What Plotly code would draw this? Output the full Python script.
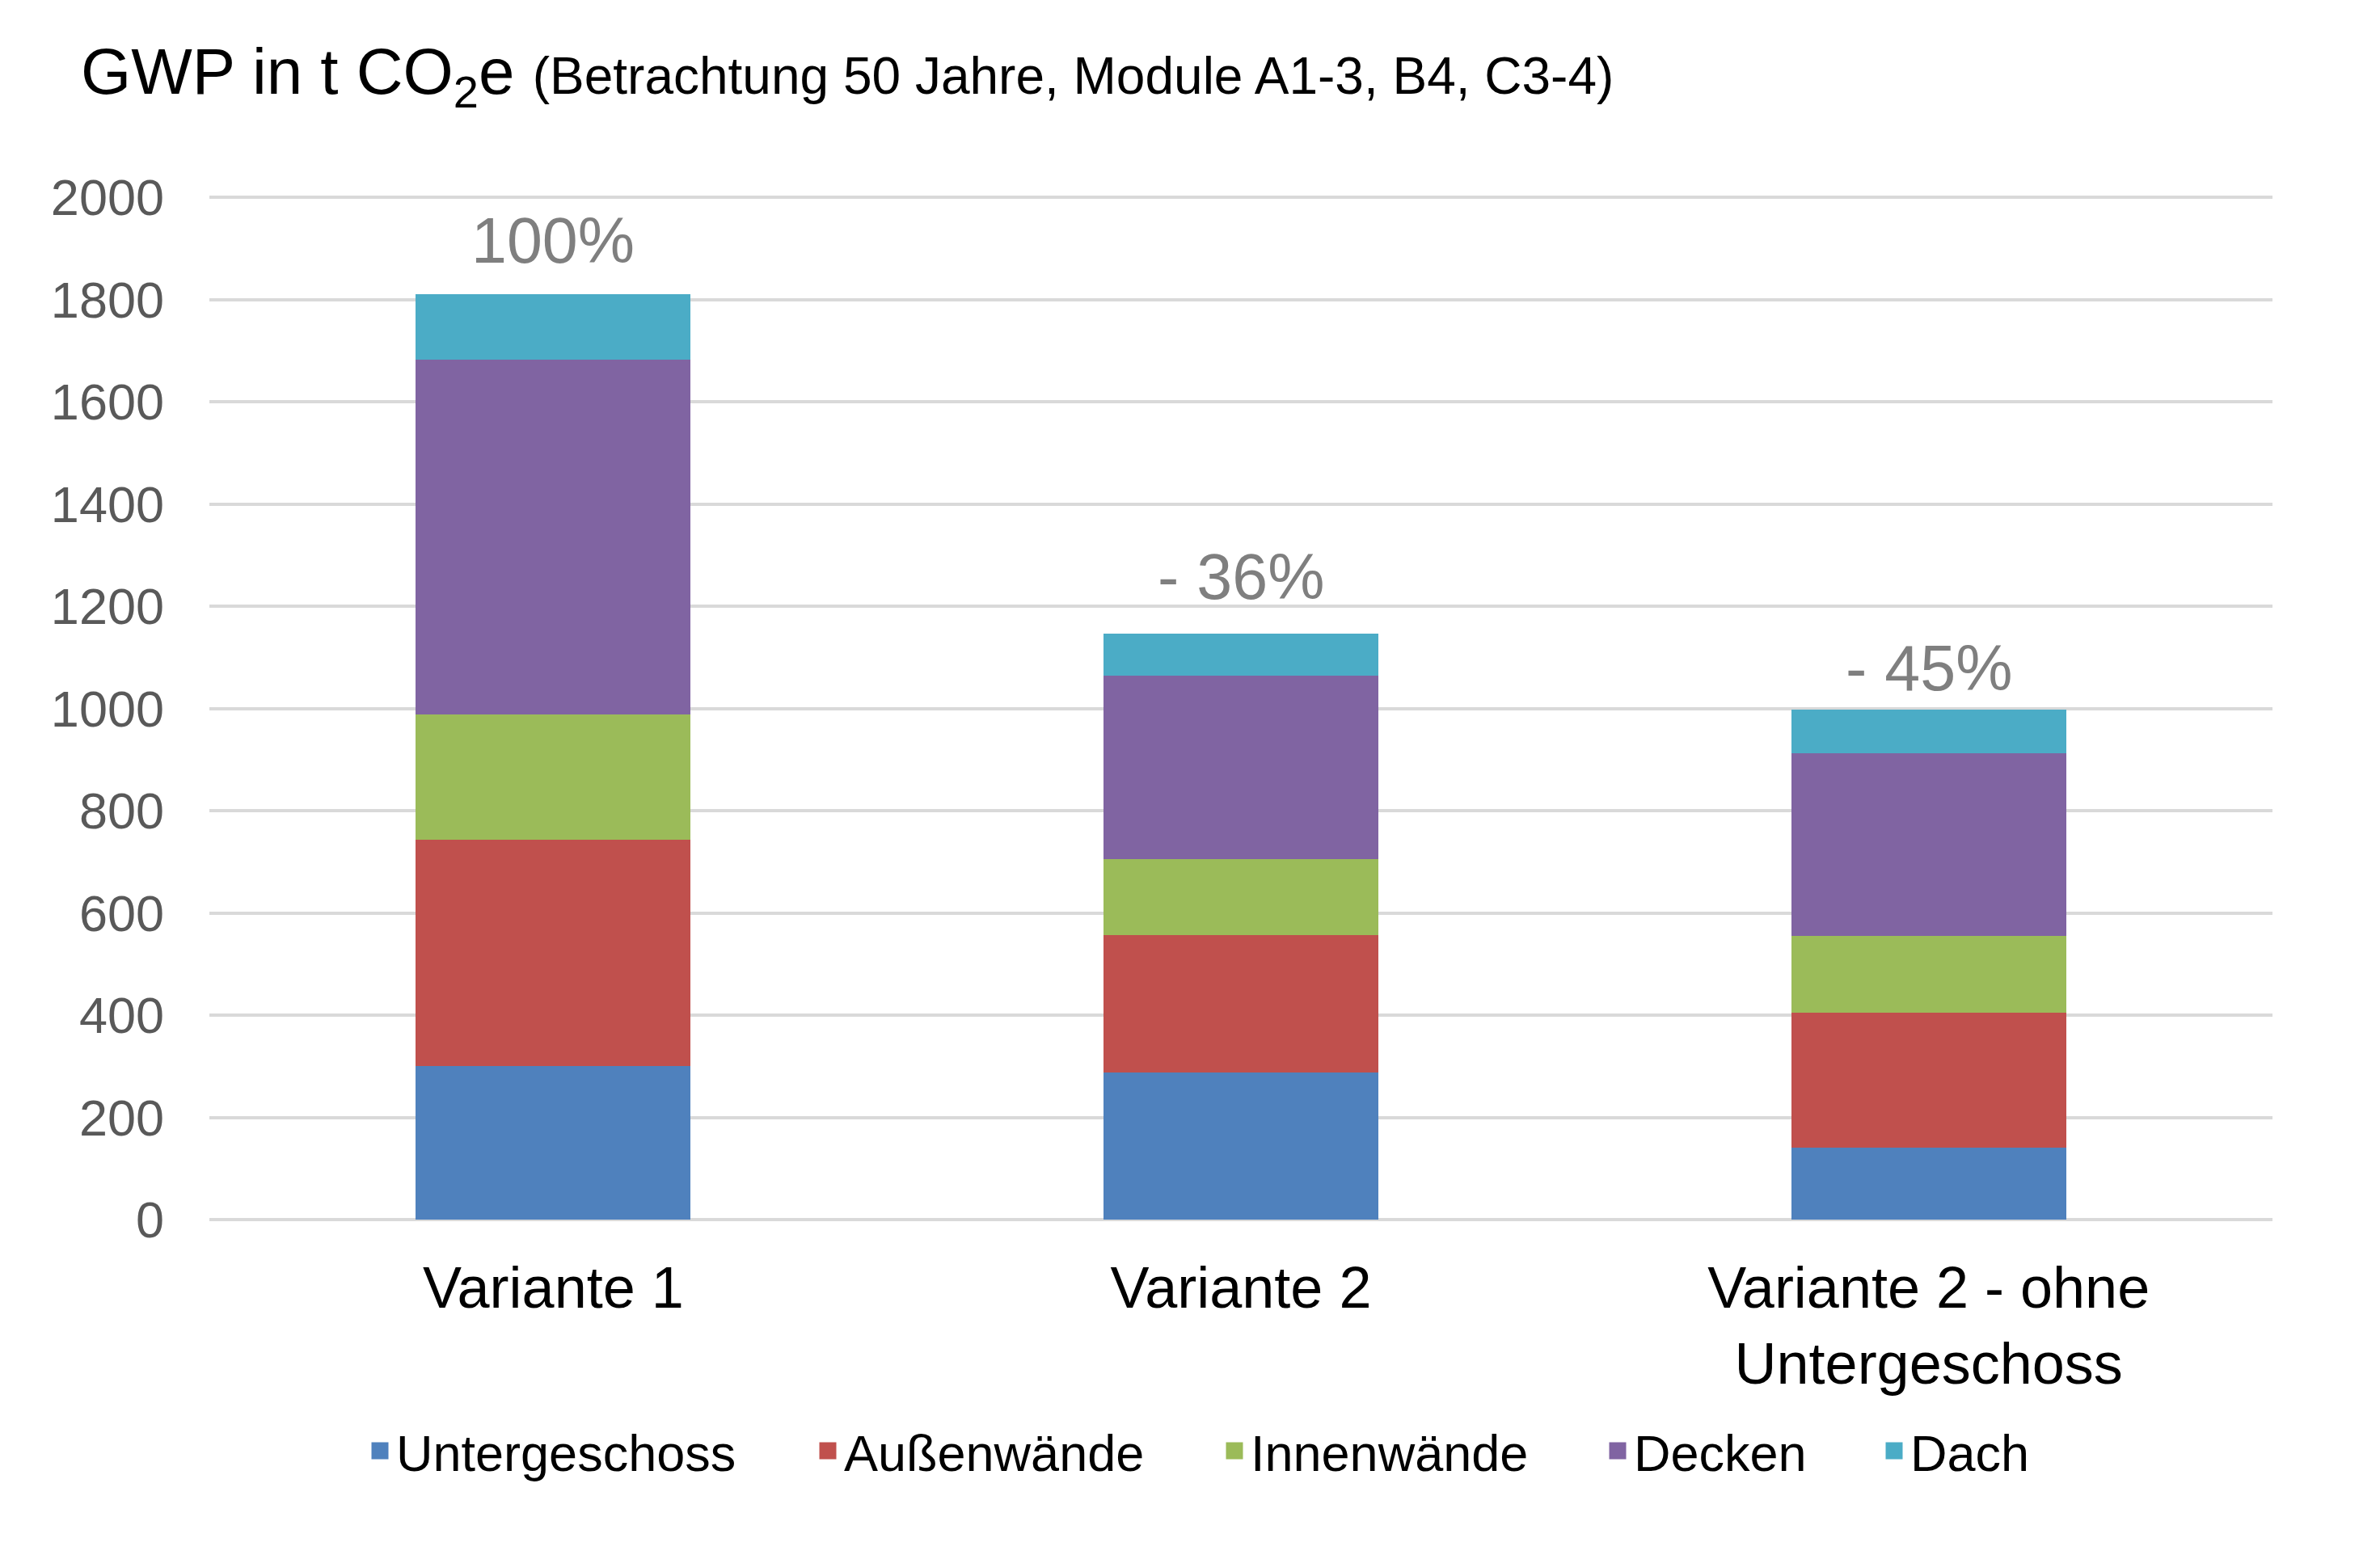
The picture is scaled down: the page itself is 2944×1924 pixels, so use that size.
import plotly.graph_objects as go

# ---- data ----
categories = ["Variante 1", "Variante 2", "Variante 2 - ohne<br>Untergeschoss"]
series_names = ["Untergeschoss", "Außenwände", "Innenwände", "Decken", "Dach"]
untergeschoss = [300, 287, 140]
aussenwaende = [443, 270, 265]
innenwaende = [245, 148, 150]
decken = [694, 359, 357]
dach = [129, 82, 85]
percent_labels = ["100%", "- 36%", "- 45%"]
y_ticks = [0, 200, 400, 600, 800, 1000, 1200, 1400, 1600, 1800, 2000]

# ---- styles ----
series_values = [untergeschoss, aussenwaende, innenwaende, decken, dach]
colors = ["#4F81BD", "#C0504D", "#9BBB59", "#8064A2", "#4BACC6"]
legend_ids = ["legend", "legend2", "legend3", "legend4", "legend5"]
legend_x_px = [442, 996, 1499, 1973, 2315]
label_yshift = [20, 24, 5]
W, H = 2944, 1924
FONT = "Liberation Sans, Arial, sans-serif"

fig = go.Figure()
for name, vals, col, lg in zip(series_names, series_values, colors, legend_ids):
    fig.add_trace(go.Bar(
        x=categories, y=vals, name=name,
        marker=dict(color=col, line=dict(width=0)),
        legend=lg, showlegend=False, legendgroup=name,
    ))
    # legend entry (larger square swatch than the bar default)
    fig.add_trace(go.Scatter(
        x=[None], y=[None], mode="markers", name=name,
        marker=dict(symbol="square", size=16, color=col, line=dict(color=col, width=5)),
        legend=lg, showlegend=True, legendgroup=name, hoverinfo="skip",
    ))

totals = [sum(v) for v in zip(*series_values)]
for cat, tot, lab, ys in zip(categories, totals, percent_labels, label_yshift):
    fig.add_annotation(
        x=cat, y=tot, text=lab, showarrow=False,
        xanchor="center", yanchor="bottom", yshift=ys,
        font=dict(family=FONT, size=79, color="#7F7F7F"),
    )

legend_common = dict(
    orientation="h", xref="container", yref="container",
    xanchor="left", yanchor="middle", y=1 - 1787 / H,
    font=dict(family=FONT, size=63, color="#000000"),
    bgcolor="rgba(0,0,0,0)", borderwidth=0, itemsizing="trace",
)
layout_legends = {}
for lg, xp in zip(legend_ids, legend_x_px):
    layout_legends[lg] = dict(legend_common, x=xp / W, visible=True)

fig.update_layout(
    width=W, height=H,
    showlegend=True,
    barmode="stack", bargap=0.6,
    plot_bgcolor="white", paper_bgcolor="white",
    margin=dict(l=251, r=141, t=231, b=423),
    font=dict(family=FONT),
    title=dict(
        text="GWP in t CO<sub>2</sub>e <span style='font-size:64px'>(Betrachtung 50 Jahre, Module A1-3, B4, C3-4)</span>",
        xref="container", yref="container",
        x=92 / W, xanchor="left",
        y=1 - 52 / H, yanchor="top",
        font=dict(family=FONT, size=80, color="#000000"),
    ),
    xaxis=dict(
        showgrid=False, showline=False, zeroline=False, ticks="",
        tickfont=dict(family=FONT, size=72, color="#000000"),
        ticklabelstandoff=36,
    ),
    yaxis=dict(
        range=[0, 2008], tickvals=y_ticks,
        showgrid=True, gridcolor="#D9D9D9", gridwidth=4,
        zeroline=True, zerolinecolor="#D9D9D9", zerolinewidth=4,
        showline=False, ticks="",
        tickfont=dict(family=FONT, size=63, color="#595959"),
        ticklabelstandoff=55,
    ),
    **layout_legends,
)

fig.write_html("out.html")
